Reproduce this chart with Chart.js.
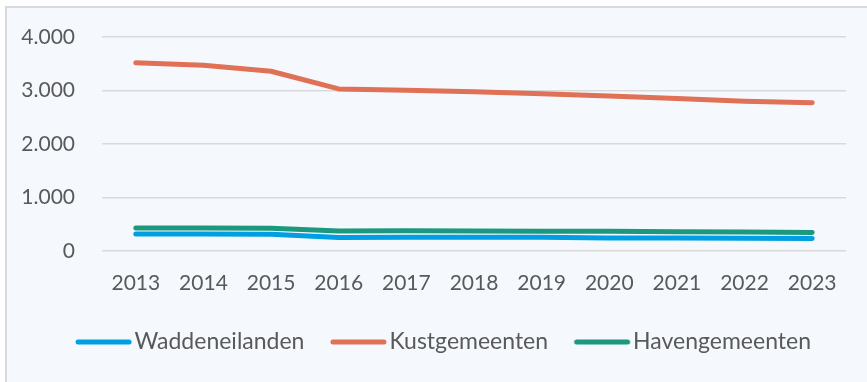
<!DOCTYPE html>
<html>
<head>
<meta charset="utf-8">
<script src="https://cdn.jsdelivr.net/npm/chart.js@4.4.1/dist/chart.umd.min.js"></script>
<style>
  html, body { margin: 0; padding: 0; background: #ffffff; overflow: hidden; }
  #frame {
    position: absolute; left: 5px; top: 6px; width: 900px; height: 400px;
    border: 2px solid #d9d9d9; background: #f5f9fd;
  }
  #wrap { position: absolute; left: 0; top: 0; width: 867px; height: 382px; }
</style>
</head>
<body>
<div id="frame"></div>
<div id="wrap"><canvas id="chart" width="867" height="382"></canvas></div>
<script>
const years = ['2013', '2014', '2015', '2016', '2017', '2018', '2019', '2020', '2021', '2022', '2023'];
const waddeneilanden = [318, 318, 315, 252, 258, 255, 255, 245, 245, 240, 232];
const kustgemeenten = [3520, 3470, 3360, 3030, 3005, 2975, 2937, 2895, 2850, 2800, 2770];
const havengemeenten = [430, 430, 425, 375, 380, 375, 370, 370, 360, 355, 345];
const yTicks = [0, 1000, 2000, 3000, 4000];

const FONT = 'Lato, "Noto Sans", sans-serif';
const TEXT = '#595959';
const LEGEND_BOX = 60;

// legend swatch: thick round-capped line sitting just left of the label text
function swatch(color) {
  const c = document.createElement('canvas');
  c.width = 140; c.height = 8;
  const g = c.getContext('2d');
  g.strokeStyle = color;
  g.lineWidth = 5;
  g.lineCap = 'round';
  g.beginPath();
  g.moveTo(55, 4);
  g.lineTo(106, 4);
  g.stroke();
  return c;
}

function dots(v) {
  return String(v).replace(/\B(?=(\d{3})+(?!\d))/g, '.');
}

// nudge the legend row a little to the right of the canvas centre
const legendShift = {
  id: 'legendShift',
  afterLayout(chart) {
    if (chart.legend) {
      chart.legend.left += 9;
      chart.legend.right += 9;
    }
  }
};

const series = [
  { label: 'Waddeneilanden', data: waddeneilanden, color: 'rgb(0,158,226)' },
  { label: 'Kustgemeenten', data: kustgemeenten, color: 'rgb(224,112,86)' },
  { label: 'Havengemeenten', data: havengemeenten, color: 'rgb(27,152,125)' }
];

new Chart(document.getElementById('chart'), {
  type: 'line',
  data: {
    labels: years,
    datasets: series.map(s => ({
      label: s.label,
      data: s.data,
      borderColor: s.color,
      backgroundColor: s.color,
      borderWidth: 5,
      borderCapStyle: 'round',
      borderJoinStyle: 'round',
      pointRadius: 0,
      pointStyle: swatch(s.color),
      tension: 0
    }))
  },
  options: {
    responsive: false,
    animation: false,
    layout: { padding: { left: 10, right: 21, top: 37, bottom: 18.5 } },
    plugins: {
      tooltip: { enabled: false },
      legend: {
        position: 'bottom',
        labels: {
          usePointStyle: true,
          pointStyleWidth: LEGEND_BOX,
          padding: 13.5,
          color: TEXT,
          font: { family: FONT, size: 23 }
        }
      }
    },
    scales: {
      x: {
        offset: true,
        afterFit: scale => { scale.height = 66; },
        grid: { display: false },
        border: { display: false },
        ticks: { color: TEXT, padding: 12, font: { family: FONT, size: 21 }, maxRotation: 0 }
      },
      y: {
        min: 0,
        max: 4000,
        afterFit: scale => { scale.width = 92; },
        afterBuildTicks: scale => { scale.ticks = yTicks.map(v => ({ value: v })); },
        // invisible tick marks keep the labels clear of the grid without a big label padding
        grid: { color: '#d9d9d9', lineWidth: 1.5, drawTicks: true, tickLength: 17, tickColor: 'rgba(0,0,0,0)' },
        border: { display: false },
        ticks: { color: TEXT, padding: 10, font: { family: FONT, size: 21 }, callback: v => dots(v) }
      }
    }
  },
  plugins: [legendShift]
});
</script>
</body>
</html>
